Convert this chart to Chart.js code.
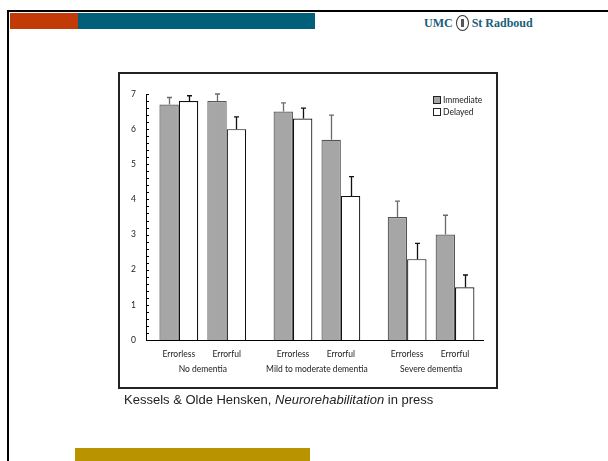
<!DOCTYPE html>
<html>
<head>
<meta charset="utf-8">
<script src="https://cdn.jsdelivr.net/npm/chart.js@4.4.1/dist/chart.umd.min.js"></script>
<style>
  html, body { margin: 0; padding: 0; background: #fff; }
  #slide { position: relative; width: 608px; height: 461px; overflow: hidden; background: #fff; }
  .abs { position: absolute; }
  #topLine { left: 7px; top: 10px; width: 601px; height: 2px; background: #000; }
  #leftLine { left: 7px; top: 10px; width: 2px; height: 451px; background: #000; }
  #redBar { left: 10px; top: 13px; width: 68px; height: 16px; background: #c23a08; }
  #tealBar { left: 78px; top: 13px; width: 237px; height: 16px; background: #00607a; }
  #goldBar { left: 75px; top: 448px; width: 235px; height: 13px; background: #b99400; }
  #logo { left: 424px; top: 14px; height: 18px; font-family: "Liberation Serif", "DejaVu Serif", serif;
          font-size: 12px; font-weight: bold; color: #17607a; white-space: nowrap; display: flex; align-items: center; }
  #crest { display: inline-block; width: 11px; height: 14px; border: 1px solid #333; border-radius: 50%;
           margin: 0 3px; position: relative; }
  #crest::after { content: ""; position: absolute; left: 4px; top: 3px; width: 3px; height: 8px; background: #555; }
  #frame { left: 118px; top: 72px; width: 376px; height: 313px; border: 2px solid #222; }
  #caption { left: 124px; top: 392px; font-family: "Liberation Sans", Arial, sans-serif; font-size: 13px;
             color: #222; white-space: nowrap; }
  #legend { left: 433px; top: 94px; font-family: Lato, "Open Sans", sans-serif; font-size: 8.5px; color: #222; }
  #legend div { display: flex; align-items: center; height: 12px; }
  #legend span.box { display: inline-block; width: 6px; height: 6px; border: 1px solid #222; margin-right: 2px; }
  canvas { position: absolute; left: 0; top: 0; }
</style>
</head>
<body>
<div id="slide">
  <div class="abs" id="topLine"></div>
  <div class="abs" id="leftLine"></div>
  <div class="abs" id="redBar"></div>
  <div class="abs" id="tealBar"></div>
  <div class="abs" id="logo">UMC<span id="crest"></span>St Radboud</div>
  <div class="abs" id="frame"></div>
  <canvas id="chart" width="608" height="461"></canvas>
  <div class="abs" id="legend">
    <div><span class="box" style="background:#a6a6a6"></span>Immediate</div>
    <div><span class="box" style="background:#fff"></span>Delayed</div>
  </div>
  <div class="abs" id="caption">Kessels &amp; Olde Hensken, <i>Neurorehabilitation</i> in press</div>
  <div class="abs" id="goldBar"></div>
</div>
<script>
// Patient groups and learning conditions
const groups = ['No dementia', 'Mild to moderate dementia', 'Severe dementia'];
const conditions = ['Errorless', 'Errorful'];

// Mean scores per group x condition (Errorless, Errorful for each group)
const immediate = [6.7, 6.8, 6.5, 5.7, 3.5, 3.0];
const delayed   = [6.8, 6.0, 6.3, 4.1, 2.3, 1.5];

// Upper error bar lengths
const immediateErr = [0.2, 0.2, 0.25, 0.7, 0.45, 0.55];
const delayedErr   = [0.15, 0.35, 0.3, 0.55, 0.45, 0.35];

// Y axis range and labelled ticks
const yTicks = [0, 1, 2, 3, 4, 5, 6, 7];

// Layout: each group occupies two condition slots, groups spaced a bit wider apart
const GROUP_STEP = 2.383;
const slotPos = [];
const slotLabels = [];
groups.forEach((g, gi) => {
  conditions.forEach((c, ci) => {
    slotPos.push(gi * GROUP_STEP + ci);
    slotLabels.push(c);
  });
});

const toPoints = vals => vals.map((v, i) => ({ x: slotPos[i], y: v }));

const CHART_FONT = 'Lato, "Open Sans", sans-serif';

// Upper error bars drawn above each bar
const errorBars = {
  id: 'errorBars',
  afterDatasetsDraw(chart) {
    const ctx = chart.ctx;
    const ys = chart.scales.y;
    chart.data.datasets.forEach((ds, di) => {
      const meta = chart.getDatasetMeta(di);
      meta.data.forEach((bar, j) => {
        const top = ys.getPixelForValue(ds.data[j].y + ds.errors[j]);
        const x = Math.round(bar.x) + 0.5;
        ctx.save();
        ctx.strokeStyle = ds.errorColor;
        ctx.lineWidth = 1.3;
        ctx.beginPath();
        ctx.moveTo(x, bar.y);
        ctx.lineTo(x, top);
        ctx.moveTo(x - 2.5, top);
        ctx.lineTo(x + 2.5, top);
        ctx.stroke();
        ctx.restore();
      });
    });
  }
};

// Inward ticks on the value axis, every 0.2
const yMinorTicks = {
  id: 'yMinorTicks',
  afterDraw(chart) {
    const ctx = chart.ctx;
    const ys = chart.scales.y;
    const x0 = chart.chartArea.left;
    const max = yTicks[yTicks.length - 1];
    ctx.save();
    ctx.strokeStyle = '#000';
    ctx.lineWidth = 1;
    ctx.beginPath();
    for (let k = 0; k <= max * 5; k++) {
      const y = Math.round(ys.getPixelForValue(k / 5)) + 0.5;
      ctx.moveTo(x0, y);
      ctx.lineTo(x0 + 3, y);
    }
    ctx.stroke();
    ctx.restore();
  }
};

// Group names centred under each pair of conditions
const groupLabels = {
  id: 'groupLabels',
  afterDraw(chart) {
    const ctx = chart.ctx;
    const xs = chart.scales.x;
    ctx.save();
    ctx.fillStyle = '#222';
    ctx.font = '8.5px ' + CHART_FONT;
    ctx.textAlign = 'center';
    ctx.textBaseline = 'middle';
    groups.forEach((g, gi) => {
      const mid = xs.getPixelForValue(gi * GROUP_STEP + 0.5);
      ctx.fillText(g, mid, 369);
    });
    ctx.restore();
  }
};

new Chart(document.getElementById('chart'), {
  type: 'bar',
  data: {
    datasets: [
      {
        label: 'Immediate',
        data: toPoints(immediate),
        errors: immediateErr,
        errorColor: '#6a6a6a',
        backgroundColor: '#a6a6a6',
        borderColor: '#555555',
        borderWidth: 1.2,
        categoryPercentage: 0.81,
        barPercentage: 1.0
      },
      {
        label: 'Delayed',
        data: toPoints(delayed),
        errors: delayedErr,
        errorColor: '#111111',
        backgroundColor: '#ffffff',
        borderColor: '#111111',
        borderWidth: 1.2,
        categoryPercentage: 0.81,
        barPercentage: 1.0
      }
    ]
  },
  options: {
    responsive: false,
    animation: false,
    devicePixelRatio: 1,
    layout: { padding: { left: 116, top: 94, right: 125, bottom: 81 } },
    plugins: { legend: { display: false }, tooltip: { enabled: false } },
    scales: {
      x: {
        type: 'linear',
        offset: false,
        min: -0.685,
        max: 6.35,
        grid: { display: false, drawTicks: false, offset: false },
        border: { display: true, color: '#000', width: 1 },
        afterBuildTicks: s => { s.ticks = slotPos.map(v => ({ value: v })); },
        afterFit: s => { s.height = 40; },
        ticks: {
          autoSkip: false,
          maxRotation: 0,
          padding: 9,
          color: '#222',
          font: { family: CHART_FONT, size: 8.5 },
          callback: (v, i) => slotLabels[i]
        }
      },
      y: {
        min: 0,
        max: yTicks[yTicks.length - 1],
        grid: { display: false, drawTicks: false },
        border: { display: true, color: '#000', width: 1 },
        afterBuildTicks: s => { s.ticks = yTicks.map(v => ({ value: v })); },
        afterFit: s => { s.width = 30; },
        ticks: {
          padding: 10,
          color: '#222',
          font: { family: CHART_FONT, size: 8.5 }
        }
      }
    }
  },
  plugins: [errorBars, yMinorTicks, groupLabels]
});
</script>
</body>
</html>
